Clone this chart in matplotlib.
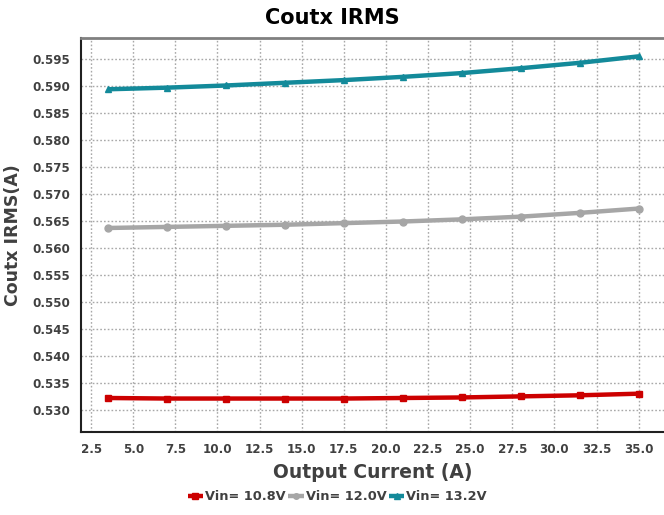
import matplotlib
matplotlib.use("Agg")
import matplotlib.pyplot as plt
import numpy as np

plt.rcParams['font.family'] = ['DejaVu Sans']

current = [3.5, 7.0, 10.5, 14.0, 17.5, 21.0, 24.5, 28.0, 31.5, 35.0]
vin_108 = [0.5322, 0.5321, 0.5321, 0.5321, 0.5321, 0.5322, 0.5323, 0.5325, 0.5327, 0.5330]
vin_120 = [0.5637, 0.5639, 0.5641, 0.5643, 0.5646, 0.5649, 0.5653, 0.5658, 0.5665, 0.5673]
vin_132 = [0.5894, 0.5897, 0.5901, 0.5906, 0.5911, 0.5917, 0.5924, 0.5933, 0.5943, 0.5955]
labels = ['Vin= 10.8V', 'Vin= 12.0V', 'Vin= 13.2V']
colors = ['#cc0000', '#a6a6a6', '#138a9a']
markers = ['s', 'o', '^']

xticks = np.arange(2.5, 35.01, 2.5)
yticks = np.arange(0.530, 0.5951, 0.005)

fig = plt.figure(figsize=(6.64, 5.15), dpi=100)
ax = fig.add_axes([81/664, 1-432/515, (664-81)/664, (432-38)/515])

for ys, lab, c, m in zip([vin_108, vin_120, vin_132], labels, colors, markers):
    ax.plot(current, ys, color=c, lw=3.2, marker=m, markersize=5, label=lab, solid_capstyle='butt')

ax.set_xlim(1.9, 36.5)
ax.set_ylim(0.5259, 0.5989)
ax.set_xticks(xticks)
ax.set_yticks(yticks)
ax.set_xticklabels([f"{v:.1f}" for v in xticks])
ax.set_yticklabels([f"{v:.3f}" for v in yticks])
ax.grid(True, color='#a8a8a8', linestyle=(0, (1.2, 1.5)), lw=1)
ax.tick_params(axis='both', length=0, labelsize=8.6, labelcolor='#404040', pad=8)
for t in ax.get_xticklabels() + ax.get_yticklabels():
    t.set_fontweight('bold')
ax.spines['right'].set_visible(False)
ax.spines['top'].set_color('#808080')
ax.spines['top'].set_linewidth(2)
ax.spines['left'].set_color('#202020')
ax.spines['bottom'].set_color('#202020')
ax.spines['left'].set_linewidth(1.5)
ax.spines['bottom'].set_linewidth(1.5)

ax.set_xlabel('Output Current (A)', fontsize=13.5, fontweight='bold', color='#404040', labelpad=5)
ax.set_ylabel('Coutx IRMS(A)', fontsize=12.5, fontweight='bold', color='#404040', labelpad=7)
fig.text(0.5, 1-18/515, 'Coutx IRMS', ha='center', va='center', fontsize=15, fontweight='bold', color='#000000')

leg = fig.legend(loc='center', bbox_to_anchor=(0.508, 1-497/515), ncol=3, frameon=False,
                 prop={'weight': 'bold', 'size': 9.3}, handlelength=1.2, handletextpad=0.15,
                 columnspacing=0.2, markerscale=0.8)
for t in leg.get_texts():
    t.set_color('#404040')

fig.savefig('out.png', dpi=100)
